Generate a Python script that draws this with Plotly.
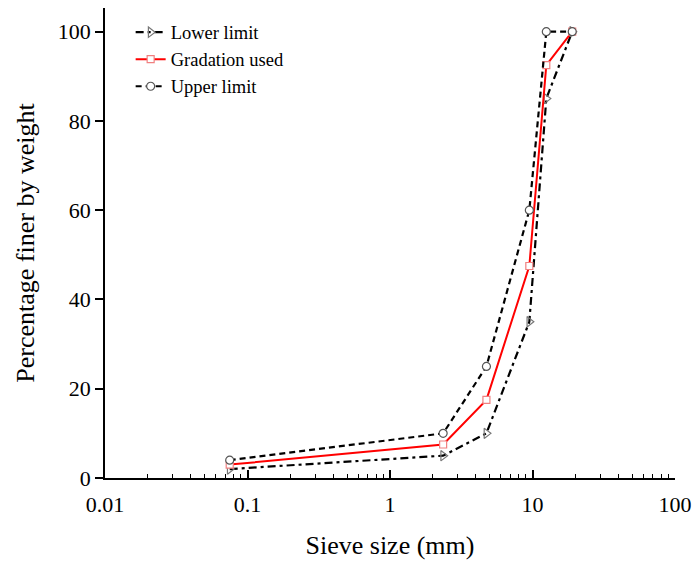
import plotly.graph_objects as go

# Sieve sizes (mm) and percent passing for each curve
sieve_mm = [0.075, 2.36, 4.75, 9.5, 12.5, 19]
lower_limit = [2, 5, 10, 35, 85, 100]
gradation_used = [3, 7.5, 17.5, 47.5, 92.5, 100]
upper_limit = [4, 10, 25, 60, 100, 100]

x_tick_vals = [0.01, 0.1, 1, 10, 100]
x_tick_text = ["0.01", "0.1", "1", "10", "100"]
y_tick_vals = [0, 20, 40, 60, 80, 100]

font_family = "Liberation Serif, Times New Roman, serif"

fig = go.Figure()

fig.add_trace(go.Scatter(
    x=sieve_mm, y=lower_limit, name="Lower limit", mode="lines+markers",
    line=dict(color="black", width=2.2, dash="8px,4px,3px,4px"),
    marker=dict(symbol="triangle-right-open", size=9, color="#777777",
                line=dict(width=1.2)),
))
fig.add_trace(go.Scatter(
    x=sieve_mm, y=gradation_used, name="Gradation used", mode="lines+markers",
    line=dict(color="#ff0000", width=2),
    marker=dict(symbol="square", size=7, color="white",
                line=dict(color="#f08080", width=1.2)),
))
fig.add_trace(go.Scatter(
    x=sieve_mm, y=upper_limit, name="Upper limit", mode="lines+markers",
    line=dict(color="black", width=2.2, dash="6px,4px"),
    marker=dict(symbol="circle", size=8, color="white",
                line=dict(color="#555555", width=1.2)),
))

minor_vals = [m * d for d in (0.01, 0.1, 1, 10) for m in range(2, 10)]

fig.update_layout(
    width=700, height=563,
    margin=dict(l=105, r=20, t=8, b=82),
    paper_bgcolor="white", plot_bgcolor="white",
    font=dict(family=font_family, size=22, color="black"),
    showlegend=True,
    legend=dict(x=0.045, y=0.988, xanchor="left", yanchor="top",
                bgcolor="rgba(0,0,0,0)", font=dict(size=18.5),
                tracegroupgap=0, itemwidth=30),
    xaxis=dict(
        type="log", range=[-2, 2],
        tickvals=x_tick_vals, ticktext=x_tick_text,
        ticks="inside", ticklen=8, tickwidth=1.5, tickcolor="black",
        ticklabelstandoff=6,
        minor=dict(tickvals=minor_vals, ticks="inside", ticklen=4,
                   tickwidth=1.2, tickcolor="black", showgrid=False),
        showline=True, linecolor="black", linewidth=1.5,
        showgrid=False, zeroline=False,
        title=dict(text="Sieve size (mm)", standoff=20),
    ),
    yaxis=dict(
        range=[0, 105.3],
        tickvals=y_tick_vals,
        ticks="outside", ticklen=8, tickwidth=1.5, tickcolor="black",
        showline=True, linecolor="black", linewidth=1.5,
        showgrid=False, zeroline=False,
        title=dict(text="Percentage finer by weight", standoff=16),
    ),
)

fig.write_html("out.html")
